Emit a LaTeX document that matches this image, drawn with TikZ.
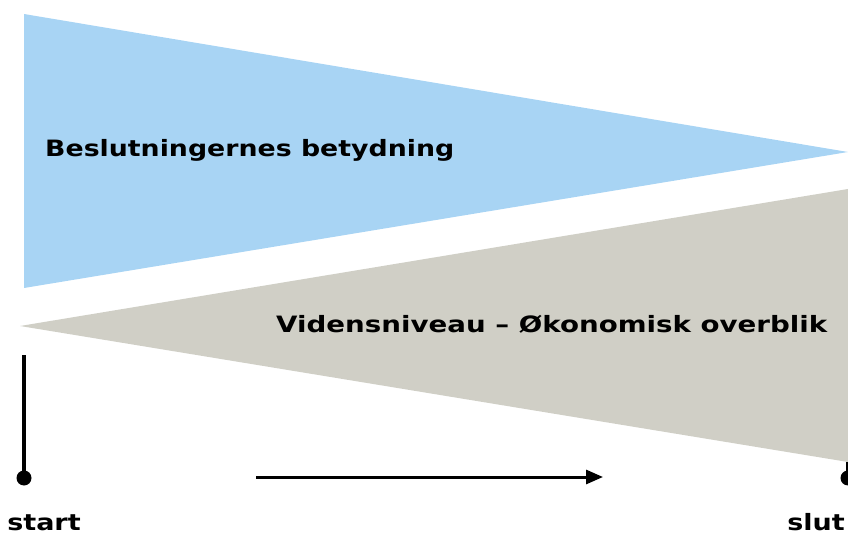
\documentclass[tikz,border=0pt]{standalone}
\usepackage{fontspec}
\setmainfont{DejaVu Sans}
\usetikzlibrary{arrows.meta}
\definecolor{lblue}{HTML}{A8D4F4}
\definecolor{lgray}{HTML}{D0CFC6}
\newcommand{\wide}[2][1.22]{\scalebox{#1}[1.0]{#2}}
\begin{document}
\begin{tikzpicture}[x=1pt,y=-1pt,
  lbl/.style={font=\fontsize{22.5}{26}\selectfont\bfseries, inner sep=0pt, anchor=base west},
  dotnode/.style={circle, fill=black, inner sep=0pt, minimum size=15pt}]
\useasboundingbox (0,0) rectangle (848,534);
\begin{scope}
\clip (0,0) rectangle (848,534);
\fill[lblue] (24,14) -- (848,152) -- (24,288) -- cycle;
\fill[lgray] (20,326) -- (848,189) -- (848,462) -- cycle;
\node[lbl] (t1) at (45,157) {\wide[1.19]{Beslutningernes betydning}};
\node[lbl] (t2) at (276,332) {\wide[1.23]{Vidensniveau – Økonomisk overblik}};
\coordinate (ltop) at (24,355);
\node[dotnode] (ldot) at (24,478) {};
\coordinate (rtop) at (848,462);
\node[dotnode] (rdot) at (848,478) {};
\draw[line width=3.5pt] (ltop) -- (ldot.center);
\draw[line width=3.5pt] (rtop) -- (rdot.center);
\coordinate (as) at (256,477);
\coordinate (ae) at (603,477);
\draw[line width=3pt, -{Triangle[length=17pt,width=14pt]}] (as) -- (ae);
\node[lbl, anchor=base] (st) at (44,530) {\wide[1.2]{start}};
\node[lbl, anchor=base] (sl) at (816,530) {\wide[1.2]{slut}};
\end{scope}
\end{tikzpicture}
\end{document}
